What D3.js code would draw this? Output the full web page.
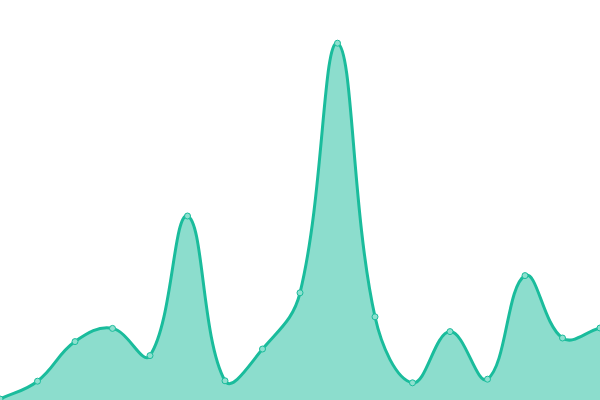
<!DOCTYPE html>
<html>
<head>
<meta charset="utf-8">
<script src="https://cdn.jsdelivr.net/npm/d3@7"></script>
<style>
  html, body { margin: 0; padding: 0; background: #fff; }
  svg { display: block; }
</style>
</head>
<body>
<svg id="chart"></svg>
<script>
// sample index and value for each point
const labels = d3.range(17);
const values = [0.25, 4.7, 14.6, 17.9, 11.1, 46.0, 4.8, 12.75, 26.8, 89.2, 20.8, 4.3, 17.1, 5.2, 31.1, 15.5, 18.0];

const width = 600, height = 400;

// spline like Chart.js (tension 0.4, control points kept inside the area)
function SplineCurve(context) { this._context = context; }
SplineCurve.prototype = {
    areaStart() { this._line = 0; },
    areaEnd() { this._line = NaN; },
    lineStart() { this._pts = []; },
    point(x, y) { this._pts.push([+x, +y]); },
    lineEnd() {
        const p = this._pts, ctx = this._context, n = p.length, t = 0.4;
        if (n) {
            if (this._line) ctx.lineTo(p[0][0], p[0][1]);
            else ctx.moveTo(p[0][0], p[0][1]);
        }
        if (n > 1) {
            const cps = p.map((cur, i) => {
                const prev = p[Math.max(0, i - 1)], next = p[Math.min(n - 1, i + 1)];
                const d01 = Math.hypot(cur[0] - prev[0], cur[1] - prev[1]);
                const d12 = Math.hypot(next[0] - cur[0], next[1] - cur[1]);
                let s01 = d01 / (d01 + d12), s12 = d12 / (d01 + d12);
                if (isNaN(s01)) s01 = 0;
                if (isNaN(s12)) s12 = 0;
                const fa = t * s01, fb = t * s12;
                const dx = next[0] - prev[0], dy = next[1] - prev[1];
                const clamp = (v, lo, hi) => Math.max(lo, Math.min(hi, v));
                return {
                    px: clamp(cur[0] - fa * dx, 0, width), py: clamp(cur[1] - fa * dy, 0, height),
                    nx: clamp(cur[0] + fb * dx, 0, width), ny: clamp(cur[1] + fb * dy, 0, height)
                };
            });
            for (let i = 1; i < n; i++) {
                ctx.bezierCurveTo(cps[i - 1].nx, cps[i - 1].ny, cps[i].px, cps[i].py, p[i][0], p[i][1]);
            }
        }
        if (this._line || (this._line !== 0 && n === 1)) ctx.closePath();
        this._line = 1 - this._line;
    }
};
const curveSpline = context => new SplineCurve(context);

const svg = d3.select("#chart")
    .attr("width", width)
    .attr("height", height);

const xScale = d3.scaleLinear().domain([0, labels.length - 1]).range([0, width]);
const yScale = d3.scaleLinear().domain([0, 100]).range([height, 0]);

const data = labels.map((d, i) => ({ x: d, y: values[i] }));

svg.append("path")
    .datum(data)
    .attr("fill", "rgba(26, 188, 156, 0.5)")
    .attr("d", d3.area()
        .x(d => xScale(d.x))
        .y0(height)
        .y1(d => yScale(d.y))
        .curve(curveSpline));

svg.append("path")
    .datum(data)
    .attr("fill", "none")
    .attr("stroke", "#1abc9c")
    .attr("stroke-width", 3)
    .attr("d", d3.line()
        .x(d => xScale(d.x))
        .y(d => yScale(d.y))
        .curve(curveSpline));

svg.append("g")
    .selectAll("circle")
    .data(data)
    .join("circle")
    .attr("cx", d => xScale(d.x))
    .attr("cy", d => yScale(d.y))
    .attr("r", 3)
    .attr("fill", "#8ee0cf")
    .attr("stroke", "#1abc9c")
    .attr("stroke-width", 1);
</script>
</body>
</html>
